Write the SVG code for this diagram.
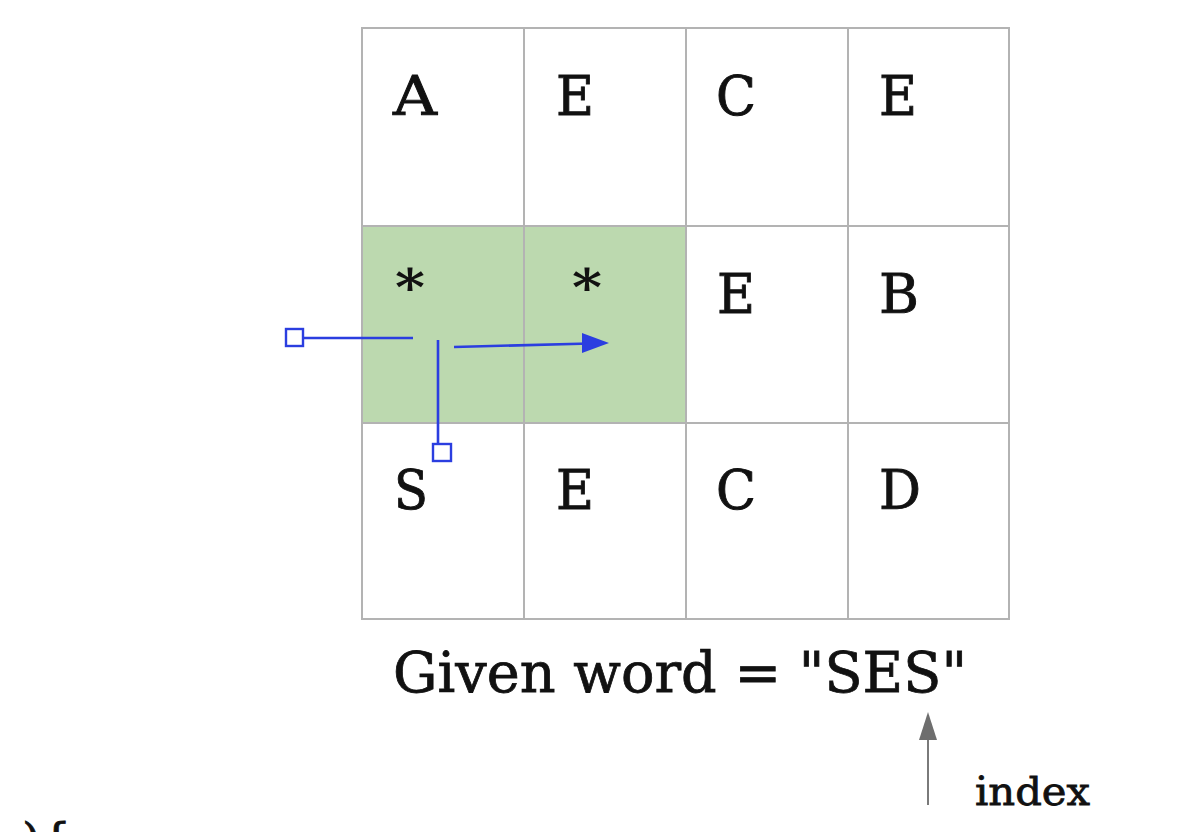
<svg xmlns="http://www.w3.org/2000/svg" width="1192" height="832" viewBox="0 0 1192 832">
<style>
.cell{fill:#ffffff;stroke:#b3b3b3;stroke-width:2}
.hl{fill:#bcd9af}
.lt{font-family:"DejaVu Serif","Liberation Serif",serif;font-size:54px;fill:#111;stroke:#111;stroke-width:0.9}
.ast{font-family:"DejaVu Serif","Liberation Serif",serif;font-size:50px;font-weight:bold;fill:#111}
.blue{stroke:#2b3ee0;stroke-width:2.6;fill:none}
.sq{fill:#fff;stroke:#2b3ee0;stroke-width:2.4}
.lbl{font-family:"DejaVu Serif","Liberation Serif",serif;fill:#111;stroke:#111;stroke-width:0.8}
</style>
<rect width="1192" height="832" fill="#ffffff"/>
<g id="grid">
<rect class="cell" x="362" y="28" width="162" height="198"/>
<rect class="cell" x="524" y="28" width="162" height="198"/>
<rect class="cell" x="686" y="28" width="162" height="198"/>
<rect class="cell" x="848" y="28" width="161" height="198"/>
<rect class="cell hl" x="362" y="226" width="162" height="197"/>
<rect class="cell hl" x="524" y="226" width="162" height="197"/>
<rect class="cell" x="686" y="226" width="162" height="197"/>
<rect class="cell" x="848" y="226" width="161" height="197"/>
<rect class="cell" x="362" y="423" width="162" height="196"/>
<rect class="cell" x="524" y="423" width="162" height="196"/>
<rect class="cell" x="686" y="423" width="162" height="196"/>
<rect class="cell" x="848" y="423" width="161" height="196"/>
</g>
<g id="letters">
<text class="lt" x="393" y="115" textLength="44" lengthAdjust="spacingAndGlyphs">A</text>
<text class="lt" x="556" y="115" textLength="38" lengthAdjust="spacingAndGlyphs">E</text>
<text class="lt" x="716" y="115" textLength="40" lengthAdjust="spacingAndGlyphs">C</text>
<text class="lt" x="879" y="115" textLength="38" lengthAdjust="spacingAndGlyphs">E</text>
<text class="ast" x="395" y="305" textLength="30" lengthAdjust="spacingAndGlyphs">*</text>
<text class="ast" x="572" y="305" textLength="30" lengthAdjust="spacingAndGlyphs">*</text>
<text class="lt" x="717" y="313" textLength="38" lengthAdjust="spacingAndGlyphs">E</text>
<text class="lt" x="879" y="313" textLength="40" lengthAdjust="spacingAndGlyphs">B</text>
<text class="lt" x="394" y="509" textLength="34" lengthAdjust="spacingAndGlyphs">S</text>
<text class="lt" x="556" y="509" textLength="38" lengthAdjust="spacingAndGlyphs">E</text>
<text class="lt" x="716" y="509" textLength="40" lengthAdjust="spacingAndGlyphs">C</text>
<text class="lt" x="879" y="509" textLength="42" lengthAdjust="spacingAndGlyphs">D</text>
</g>
<g id="connectors">
<line class="blue" x1="303" y1="338" x2="413" y2="338"/>
<rect class="sq" x="286" y="329" width="17" height="17"/>
<line class="blue" x1="438" y1="340" x2="438" y2="444"/>
<rect class="sq" x="433" y="444" width="18" height="17"/>
<line class="blue" x1="454" y1="347" x2="590" y2="343.5"/>
<path d="M582,333 L609,343 L582,353 z" fill="#2b3ee0"/>
<line x1="928" y1="805" x2="928" y2="730" stroke="#7a7a7a" stroke-width="2"/>
<path d="M928,712 L937,740 L919,740 z" fill="#6e6e6e"/>
</g>
<g id="labels">
<text class="lbl" x="393" y="692" font-size="56" textLength="574" lengthAdjust="spacingAndGlyphs">Given word = "SES"</text>
<text class="lbl" x="975" y="805" font-size="40" textLength="115" lengthAdjust="spacingAndGlyphs">index</text>
<text class="lbl" x="22" y="858" font-size="48">){</text>
</g>
</svg>
